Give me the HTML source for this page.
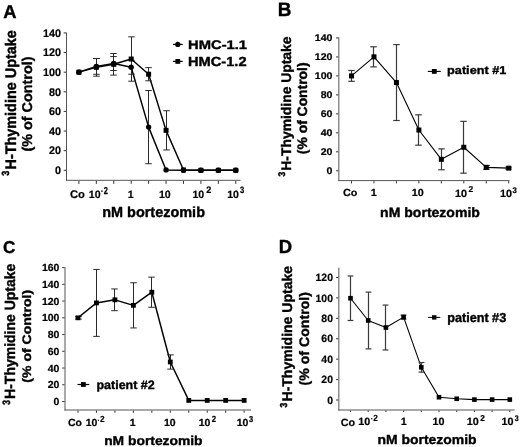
<!DOCTYPE html>
<html><head><meta charset="utf-8"><style>
html,body{margin:0;padding:0;background:#fff;}
svg{display:block;will-change:transform;}
text{font-family:"Liberation Sans", sans-serif;font-weight:bold;fill:#000;text-rendering:geometricPrecision;}
</style></head><body>
<svg width="520" height="447" viewBox="0 0 520 447">
<rect width="520" height="447" fill="#fff"/>
<line x1="66.50" y1="32.40" x2="66.50" y2="180.80" stroke="#555" stroke-width="1" stroke-linecap="butt"/>
<line x1="66.00" y1="180.30" x2="240.50" y2="180.30" stroke="#555" stroke-width="1" stroke-linecap="butt"/>
<line x1="63.70" y1="170.30" x2="66.00" y2="170.30" stroke="#333" stroke-width="1" stroke-linecap="butt"/>
<line x1="63.70" y1="150.67" x2="66.00" y2="150.67" stroke="#333" stroke-width="1" stroke-linecap="butt"/>
<line x1="63.70" y1="131.04" x2="66.00" y2="131.04" stroke="#333" stroke-width="1" stroke-linecap="butt"/>
<line x1="63.70" y1="111.41" x2="66.00" y2="111.41" stroke="#333" stroke-width="1" stroke-linecap="butt"/>
<line x1="63.70" y1="91.79" x2="66.00" y2="91.79" stroke="#333" stroke-width="1" stroke-linecap="butt"/>
<line x1="63.70" y1="72.16" x2="66.00" y2="72.16" stroke="#333" stroke-width="1" stroke-linecap="butt"/>
<line x1="63.70" y1="52.53" x2="66.00" y2="52.53" stroke="#333" stroke-width="1" stroke-linecap="butt"/>
<line x1="63.70" y1="32.90" x2="66.00" y2="32.90" stroke="#333" stroke-width="1" stroke-linecap="butt"/>
<line x1="78.90" y1="180.80" x2="78.90" y2="183.90" stroke="#333" stroke-width="1" stroke-linecap="butt"/>
<line x1="96.33" y1="180.80" x2="96.33" y2="183.90" stroke="#333" stroke-width="1" stroke-linecap="butt"/>
<line x1="113.76" y1="180.80" x2="113.76" y2="183.90" stroke="#333" stroke-width="1" stroke-linecap="butt"/>
<line x1="131.19" y1="180.80" x2="131.19" y2="183.90" stroke="#333" stroke-width="1" stroke-linecap="butt"/>
<line x1="148.62" y1="180.80" x2="148.62" y2="183.90" stroke="#333" stroke-width="1" stroke-linecap="butt"/>
<line x1="166.05" y1="180.80" x2="166.05" y2="183.90" stroke="#333" stroke-width="1" stroke-linecap="butt"/>
<line x1="183.48" y1="180.80" x2="183.48" y2="183.90" stroke="#333" stroke-width="1" stroke-linecap="butt"/>
<line x1="200.91" y1="180.80" x2="200.91" y2="183.90" stroke="#333" stroke-width="1" stroke-linecap="butt"/>
<line x1="218.34" y1="180.80" x2="218.34" y2="183.90" stroke="#333" stroke-width="1" stroke-linecap="butt"/>
<line x1="235.77" y1="180.80" x2="235.77" y2="183.90" stroke="#333" stroke-width="1" stroke-linecap="butt"/>
<text transform="translate(55.04,174.10) scale(1.0000,1.0200)" font-size="10.80" stroke="#000" stroke-width="0.200" stroke-linejoin="round">0</text>
<text transform="translate(49.03,154.47) scale(1.0000,1.0200)" font-size="10.80" stroke="#000" stroke-width="0.200" stroke-linejoin="round">20</text>
<text transform="translate(49.03,134.84) scale(1.0000,1.0200)" font-size="10.80" stroke="#000" stroke-width="0.200" stroke-linejoin="round">40</text>
<text transform="translate(49.03,115.21) scale(1.0000,1.0200)" font-size="10.80" stroke="#000" stroke-width="0.200" stroke-linejoin="round">60</text>
<text transform="translate(49.03,95.59) scale(1.0000,1.0200)" font-size="10.80" stroke="#000" stroke-width="0.200" stroke-linejoin="round">80</text>
<text transform="translate(43.02,75.96) scale(1.0000,1.0200)" font-size="10.80" stroke="#000" stroke-width="0.200" stroke-linejoin="round">100</text>
<text transform="translate(43.02,56.33) scale(1.0000,1.0200)" font-size="10.80" stroke="#000" stroke-width="0.200" stroke-linejoin="round">120</text>
<text transform="translate(43.02,36.70) scale(1.0000,1.0200)" font-size="10.80" stroke="#000" stroke-width="0.200" stroke-linejoin="round">140</text>
<text transform="translate(3.19,17.70) scale(1.0000,1.0188)" font-size="18.33" stroke="#000" stroke-width="0.380" stroke-linejoin="round">A</text>
<text transform="translate(69.97,197.70)" font-size="11.20" stroke="#000" stroke-width="0.200" stroke-linejoin="round">Co</text>
<text transform="translate(88.83,197.50)" font-size="10.60" stroke="#000" stroke-width="0.200" stroke-linejoin="round">10</text>
<rect x="101.10" y="190.55" width="1.80" height="1.1" fill="#000"/>
<text transform="translate(103.69,193.70) scale(1.0000,1.3503)" font-size="7.48" stroke="#000" stroke-width="0.200" stroke-linejoin="round">2</text>
<text transform="translate(127.71,197.50)" font-size="10.60" stroke="#000" stroke-width="0.200" stroke-linejoin="round">1</text>
<text transform="translate(158.88,197.50)" font-size="10.60" stroke="#000" stroke-width="0.200" stroke-linejoin="round">10</text>
<text transform="translate(192.48,197.50)" font-size="10.60" stroke="#000" stroke-width="0.200" stroke-linejoin="round">10</text>
<text transform="translate(206.23,192.70) scale(1.0000,1.0264)" font-size="9.14" stroke="#000" stroke-width="0.200" stroke-linejoin="round">2</text>
<text transform="translate(227.23,197.50)" font-size="10.60" stroke="#000" stroke-width="0.200" stroke-linejoin="round">10</text>
<text transform="translate(239.97,192.80) scale(1.0000,1.2083)" font-size="7.64" stroke="#000" stroke-width="0.200" stroke-linejoin="round">3</text>
<text transform="translate(102.20,216.50) scale(1.0000,1.0161)" font-size="14.46" stroke="#000" stroke-width="0.380" stroke-linejoin="round">nM bortezomib</text>
<text transform="translate(15.90,169.51) rotate(-90) scale(1.0000,1.0638)" font-size="14.41" stroke="#000" stroke-width="0.380" stroke-linejoin="round">H-Thymidine Uptake</text>
<text transform="translate(31.60,151.47) rotate(-90) scale(1.0000,0.9843)" font-size="14.36" stroke="#000" stroke-width="0.386" stroke-linejoin="round">(% of Control)</text>
<text transform="translate(9.30,175.66) rotate(-90) scale(1.0000,1.1469)" font-size="9.05" stroke="#000" stroke-width="0.380" stroke-linejoin="round">3</text>
<text transform="translate(188.01,49.10) scale(1.0000,0.8480)" font-size="14.78" stroke="#000" stroke-width="0.448" stroke-linejoin="round">HMC-1.1</text>
<text transform="translate(188.02,66.00) scale(1.0000,0.8951)" font-size="14.64" stroke="#000" stroke-width="0.425" stroke-linejoin="round">HMC-1.2</text>
<line x1="172.90" y1="44.40" x2="182.70" y2="44.40" stroke="#000" stroke-width="1.2" stroke-linecap="butt"/>
<circle cx="177.80" cy="44.40" r="2.6" fill="#000"/>
<line x1="172.90" y1="61.40" x2="182.70" y2="61.40" stroke="#000" stroke-width="1.2" stroke-linecap="butt"/>
<rect x="175.40" y="59.00" width="4.8" height="4.8" fill="#000"/>
<polyline points="78.90,72.16 96.33,66.37 113.76,63.52 131.19,67.25 148.62,127.12 166.05,169.91 183.48,170.30 200.91,170.30 218.34,170.30 235.77,170.30" fill="none" stroke="#000" stroke-width="1.45" stroke-linejoin="round"/>
<polyline points="78.90,72.16 96.33,67.35 113.76,64.31 131.19,59.01 148.62,74.22 166.05,130.36 183.48,170.01 200.91,170.30 218.34,170.30 235.77,170.30" fill="none" stroke="#000" stroke-width="1.45" stroke-linejoin="round"/>
<line x1="96.50" y1="58.47" x2="96.50" y2="74.27" stroke="#2a2a2a" stroke-width="1.0" stroke-linecap="butt"/>
<line x1="93.25" y1="58.47" x2="99.75" y2="58.47" stroke="#2a2a2a" stroke-width="1.0" stroke-linecap="butt"/>
<line x1="93.25" y1="74.27" x2="99.75" y2="74.27" stroke="#2a2a2a" stroke-width="1.0" stroke-linecap="butt"/>
<line x1="113.50" y1="56.55" x2="113.50" y2="70.49" stroke="#2a2a2a" stroke-width="1.0" stroke-linecap="butt"/>
<line x1="110.25" y1="56.55" x2="116.75" y2="56.55" stroke="#2a2a2a" stroke-width="1.0" stroke-linecap="butt"/>
<line x1="110.25" y1="70.49" x2="116.75" y2="70.49" stroke="#2a2a2a" stroke-width="1.0" stroke-linecap="butt"/>
<line x1="131.50" y1="60.28" x2="131.50" y2="74.22" stroke="#2a2a2a" stroke-width="1.0" stroke-linecap="butt"/>
<line x1="128.25" y1="60.28" x2="134.75" y2="60.28" stroke="#2a2a2a" stroke-width="1.0" stroke-linecap="butt"/>
<line x1="128.25" y1="74.22" x2="134.75" y2="74.22" stroke="#2a2a2a" stroke-width="1.0" stroke-linecap="butt"/>
<line x1="148.50" y1="90.51" x2="148.50" y2="163.72" stroke="#2a2a2a" stroke-width="1.0" stroke-linecap="butt"/>
<line x1="145.25" y1="90.51" x2="151.75" y2="90.51" stroke="#2a2a2a" stroke-width="1.0" stroke-linecap="butt"/>
<line x1="145.25" y1="163.72" x2="151.75" y2="163.72" stroke="#2a2a2a" stroke-width="1.0" stroke-linecap="butt"/>
<line x1="96.50" y1="58.52" x2="96.50" y2="76.18" stroke="#2a2a2a" stroke-width="1.0" stroke-linecap="butt"/>
<line x1="93.25" y1="58.52" x2="99.75" y2="58.52" stroke="#2a2a2a" stroke-width="1.0" stroke-linecap="butt"/>
<line x1="93.25" y1="76.18" x2="99.75" y2="76.18" stroke="#2a2a2a" stroke-width="1.0" stroke-linecap="butt"/>
<line x1="113.50" y1="53.51" x2="113.50" y2="75.10" stroke="#2a2a2a" stroke-width="1.0" stroke-linecap="butt"/>
<line x1="110.25" y1="53.51" x2="116.75" y2="53.51" stroke="#2a2a2a" stroke-width="1.0" stroke-linecap="butt"/>
<line x1="110.25" y1="75.10" x2="116.75" y2="75.10" stroke="#2a2a2a" stroke-width="1.0" stroke-linecap="butt"/>
<line x1="131.50" y1="36.83" x2="131.50" y2="81.19" stroke="#2a2a2a" stroke-width="1.0" stroke-linecap="butt"/>
<line x1="128.25" y1="36.83" x2="134.75" y2="36.83" stroke="#2a2a2a" stroke-width="1.0" stroke-linecap="butt"/>
<line x1="128.25" y1="81.19" x2="134.75" y2="81.19" stroke="#2a2a2a" stroke-width="1.0" stroke-linecap="butt"/>
<line x1="148.50" y1="67.64" x2="148.50" y2="80.79" stroke="#2a2a2a" stroke-width="1.0" stroke-linecap="butt"/>
<line x1="145.25" y1="67.64" x2="151.75" y2="67.64" stroke="#2a2a2a" stroke-width="1.0" stroke-linecap="butt"/>
<line x1="145.25" y1="80.79" x2="151.75" y2="80.79" stroke="#2a2a2a" stroke-width="1.0" stroke-linecap="butt"/>
<line x1="166.50" y1="110.73" x2="166.50" y2="149.98" stroke="#2a2a2a" stroke-width="1.0" stroke-linecap="butt"/>
<line x1="163.25" y1="110.73" x2="169.75" y2="110.73" stroke="#2a2a2a" stroke-width="1.0" stroke-linecap="butt"/>
<line x1="163.25" y1="149.98" x2="169.75" y2="149.98" stroke="#2a2a2a" stroke-width="1.0" stroke-linecap="butt"/>
<circle cx="78.90" cy="72.16" r="2.7" fill="#000"/>
<circle cx="96.33" cy="66.37" r="2.7" fill="#000"/>
<circle cx="113.76" cy="63.52" r="2.7" fill="#000"/>
<circle cx="131.19" cy="67.25" r="2.7" fill="#000"/>
<circle cx="148.62" cy="127.12" r="2.7" fill="#000"/>
<circle cx="166.05" cy="169.91" r="2.7" fill="#000"/>
<circle cx="183.48" cy="170.30" r="2.7" fill="#000"/>
<circle cx="200.91" cy="170.30" r="2.7" fill="#000"/>
<circle cx="218.34" cy="170.30" r="2.7" fill="#000"/>
<circle cx="235.77" cy="170.30" r="2.7" fill="#000"/>
<rect x="76.40" y="69.66" width="5.0" height="5.0" fill="#000"/>
<rect x="93.83" y="64.85" width="5.0" height="5.0" fill="#000"/>
<rect x="111.26" y="61.81" width="5.0" height="5.0" fill="#000"/>
<rect x="128.69" y="56.51" width="5.0" height="5.0" fill="#000"/>
<rect x="146.12" y="71.72" width="5.0" height="5.0" fill="#000"/>
<rect x="163.55" y="127.86" width="5.0" height="5.0" fill="#000"/>
<rect x="180.98" y="167.51" width="5.0" height="5.0" fill="#000"/>
<rect x="198.41" y="167.80" width="5.0" height="5.0" fill="#000"/>
<rect x="215.84" y="167.80" width="5.0" height="5.0" fill="#000"/>
<rect x="233.27" y="167.80" width="5.0" height="5.0" fill="#000"/>
<line x1="338.85" y1="37.20" x2="338.85" y2="181.10" stroke="#555" stroke-width="1" stroke-linecap="butt"/>
<line x1="338.35" y1="180.60" x2="509.50" y2="180.60" stroke="#555" stroke-width="1" stroke-linecap="butt"/>
<line x1="336.05" y1="170.80" x2="338.35" y2="170.80" stroke="#333" stroke-width="1" stroke-linecap="butt"/>
<line x1="336.05" y1="151.82" x2="338.35" y2="151.82" stroke="#333" stroke-width="1" stroke-linecap="butt"/>
<line x1="336.05" y1="132.84" x2="338.35" y2="132.84" stroke="#333" stroke-width="1" stroke-linecap="butt"/>
<line x1="336.05" y1="113.86" x2="338.35" y2="113.86" stroke="#333" stroke-width="1" stroke-linecap="butt"/>
<line x1="336.05" y1="94.89" x2="338.35" y2="94.89" stroke="#333" stroke-width="1" stroke-linecap="butt"/>
<line x1="336.05" y1="75.91" x2="338.35" y2="75.91" stroke="#333" stroke-width="1" stroke-linecap="butt"/>
<line x1="336.05" y1="56.93" x2="338.35" y2="56.93" stroke="#333" stroke-width="1" stroke-linecap="butt"/>
<line x1="336.05" y1="37.95" x2="338.35" y2="37.95" stroke="#333" stroke-width="1" stroke-linecap="butt"/>
<line x1="351.50" y1="181.10" x2="351.50" y2="183.40" stroke="#333" stroke-width="1" stroke-linecap="butt"/>
<line x1="373.96" y1="181.10" x2="373.96" y2="183.40" stroke="#333" stroke-width="1" stroke-linecap="butt"/>
<line x1="396.42" y1="181.10" x2="396.42" y2="183.40" stroke="#333" stroke-width="1" stroke-linecap="butt"/>
<line x1="418.88" y1="181.10" x2="418.88" y2="183.40" stroke="#333" stroke-width="1" stroke-linecap="butt"/>
<line x1="441.34" y1="181.10" x2="441.34" y2="183.40" stroke="#333" stroke-width="1" stroke-linecap="butt"/>
<line x1="463.80" y1="181.10" x2="463.80" y2="183.40" stroke="#333" stroke-width="1" stroke-linecap="butt"/>
<line x1="486.26" y1="181.10" x2="486.26" y2="183.40" stroke="#333" stroke-width="1" stroke-linecap="butt"/>
<line x1="508.72" y1="181.10" x2="508.72" y2="183.40" stroke="#333" stroke-width="1" stroke-linecap="butt"/>
<text transform="translate(326.54,174.20) scale(1.0000,0.9300)" font-size="10.60" stroke="#000" stroke-width="0.215" stroke-linejoin="round">0</text>
<text transform="translate(320.64,155.22) scale(1.0000,0.9300)" font-size="10.60" stroke="#000" stroke-width="0.215" stroke-linejoin="round">20</text>
<text transform="translate(320.64,136.24) scale(1.0000,0.9300)" font-size="10.60" stroke="#000" stroke-width="0.215" stroke-linejoin="round">40</text>
<text transform="translate(320.64,117.26) scale(1.0000,0.9300)" font-size="10.60" stroke="#000" stroke-width="0.215" stroke-linejoin="round">60</text>
<text transform="translate(320.64,98.29) scale(1.0000,0.9300)" font-size="10.60" stroke="#000" stroke-width="0.215" stroke-linejoin="round">80</text>
<text transform="translate(314.75,79.31) scale(1.0000,0.9300)" font-size="10.60" stroke="#000" stroke-width="0.215" stroke-linejoin="round">100</text>
<text transform="translate(314.75,60.33) scale(1.0000,0.9300)" font-size="10.60" stroke="#000" stroke-width="0.215" stroke-linejoin="round">120</text>
<text transform="translate(314.75,41.35) scale(1.0000,0.9300)" font-size="10.60" stroke="#000" stroke-width="0.215" stroke-linejoin="round">140</text>
<text transform="translate(277.79,16.00) scale(1.0000,1.0290)" font-size="18.86" stroke="#000" stroke-width="0.380" stroke-linejoin="round">B</text>
<text transform="translate(342.99,196.30) scale(1.0000,0.9500)" font-size="10.80" stroke="#000" stroke-width="0.211" stroke-linejoin="round">Co</text>
<text transform="translate(370.77,196.30) scale(1.0000,0.9500)" font-size="10.80" stroke="#000" stroke-width="0.211" stroke-linejoin="round">1</text>
<text transform="translate(411.76,196.30) scale(1.0000,0.9500)" font-size="10.80" stroke="#000" stroke-width="0.211" stroke-linejoin="round">10</text>
<text transform="translate(455.11,196.50) scale(1.0000,0.9700)" font-size="10.80" stroke="#000" stroke-width="0.206" stroke-linejoin="round">10</text>
<text transform="translate(468.45,191.50) scale(1.0000,0.9838)" font-size="8.52" stroke="#000" stroke-width="0.203" stroke-linejoin="round">2</text>
<text transform="translate(499.91,196.50) scale(1.0000,0.9700)" font-size="10.80" stroke="#000" stroke-width="0.206" stroke-linejoin="round">10</text>
<text transform="translate(512.57,192.60) scale(1.0000,1.0496)" font-size="7.85" stroke="#000" stroke-width="0.200" stroke-linejoin="round">3</text>
<text transform="translate(380.12,216.80) scale(1.0000,0.9586)" font-size="14.04" stroke="#000" stroke-width="0.396" stroke-linejoin="round">nM bortezomib</text>
<text transform="translate(291.00,170.68) rotate(-90) scale(1.0000,0.9992)" font-size="13.89" stroke="#000" stroke-width="0.380" stroke-linejoin="round">H-Thymidine Uptake</text>
<text transform="translate(307.20,154.14) rotate(-90) scale(1.0000,0.9917)" font-size="13.89" stroke="#000" stroke-width="0.383" stroke-linejoin="round">(% of Control)</text>
<text transform="translate(285.00,176.44) rotate(-90) scale(1.0000,1.1441)" font-size="8.45" stroke="#000" stroke-width="0.380" stroke-linejoin="round">3</text>
<text transform="translate(447.11,74.40) scale(1.0000,0.8958)" font-size="12.68" stroke="#000" stroke-width="0.424" stroke-linejoin="round">patient #1</text>
<line x1="427.80" y1="71.40" x2="440.80" y2="71.40" stroke="#000" stroke-width="1.1" stroke-linecap="butt"/>
<rect x="431.90" y="69.00" width="4.8" height="4.8" fill="#000"/>
<polyline points="351.50,75.91 373.96,56.83 396.42,82.55 418.88,130.00 441.34,159.32 463.80,147.27 486.26,167.38 508.72,168.14" fill="none" stroke="#000" stroke-width="1.1" stroke-linejoin="round"/>
<line x1="351.50" y1="70.50" x2="351.50" y2="81.32" stroke="#3a3a3a" stroke-width="1.2" stroke-linecap="butt"/>
<line x1="348.25" y1="70.50" x2="354.75" y2="70.50" stroke="#3a3a3a" stroke-width="1.2" stroke-linecap="butt"/>
<line x1="348.25" y1="81.32" x2="354.75" y2="81.32" stroke="#3a3a3a" stroke-width="1.2" stroke-linecap="butt"/>
<line x1="373.50" y1="46.78" x2="373.50" y2="66.89" stroke="#3a3a3a" stroke-width="1.2" stroke-linecap="butt"/>
<line x1="370.25" y1="46.78" x2="376.75" y2="46.78" stroke="#3a3a3a" stroke-width="1.2" stroke-linecap="butt"/>
<line x1="370.25" y1="66.89" x2="376.75" y2="66.89" stroke="#3a3a3a" stroke-width="1.2" stroke-linecap="butt"/>
<line x1="396.50" y1="44.59" x2="396.50" y2="120.51" stroke="#3a3a3a" stroke-width="1.2" stroke-linecap="butt"/>
<line x1="393.25" y1="44.59" x2="399.75" y2="44.59" stroke="#3a3a3a" stroke-width="1.2" stroke-linecap="butt"/>
<line x1="393.25" y1="120.51" x2="399.75" y2="120.51" stroke="#3a3a3a" stroke-width="1.2" stroke-linecap="butt"/>
<line x1="418.50" y1="114.81" x2="418.50" y2="145.18" stroke="#3a3a3a" stroke-width="1.2" stroke-linecap="butt"/>
<line x1="415.25" y1="114.81" x2="421.75" y2="114.81" stroke="#3a3a3a" stroke-width="1.2" stroke-linecap="butt"/>
<line x1="415.25" y1="145.18" x2="421.75" y2="145.18" stroke="#3a3a3a" stroke-width="1.2" stroke-linecap="butt"/>
<line x1="441.50" y1="148.88" x2="441.50" y2="169.76" stroke="#3a3a3a" stroke-width="1.2" stroke-linecap="butt"/>
<line x1="438.25" y1="148.88" x2="444.75" y2="148.88" stroke="#3a3a3a" stroke-width="1.2" stroke-linecap="butt"/>
<line x1="438.25" y1="169.76" x2="444.75" y2="169.76" stroke="#3a3a3a" stroke-width="1.2" stroke-linecap="butt"/>
<line x1="463.50" y1="121.36" x2="463.50" y2="173.17" stroke="#3a3a3a" stroke-width="1.2" stroke-linecap="butt"/>
<line x1="460.25" y1="121.36" x2="466.75" y2="121.36" stroke="#3a3a3a" stroke-width="1.2" stroke-linecap="butt"/>
<line x1="460.25" y1="173.17" x2="466.75" y2="173.17" stroke="#3a3a3a" stroke-width="1.2" stroke-linecap="butt"/>
<line x1="486.50" y1="165.49" x2="486.50" y2="169.28" stroke="#3a3a3a" stroke-width="1.2" stroke-linecap="butt"/>
<line x1="483.25" y1="165.49" x2="489.75" y2="165.49" stroke="#3a3a3a" stroke-width="1.2" stroke-linecap="butt"/>
<line x1="483.25" y1="169.28" x2="489.75" y2="169.28" stroke="#3a3a3a" stroke-width="1.2" stroke-linecap="butt"/>
<line x1="508.50" y1="167.19" x2="508.50" y2="169.09" stroke="#3a3a3a" stroke-width="1.2" stroke-linecap="butt"/>
<line x1="505.25" y1="167.19" x2="511.75" y2="167.19" stroke="#3a3a3a" stroke-width="1.2" stroke-linecap="butt"/>
<line x1="505.25" y1="169.09" x2="511.75" y2="169.09" stroke="#3a3a3a" stroke-width="1.2" stroke-linecap="butt"/>
<rect x="349.00" y="73.41" width="5.0" height="5.0" fill="#000"/>
<rect x="371.46" y="54.33" width="5.0" height="5.0" fill="#000"/>
<rect x="393.92" y="80.05" width="5.0" height="5.0" fill="#000"/>
<rect x="416.38" y="127.50" width="5.0" height="5.0" fill="#000"/>
<rect x="438.84" y="156.82" width="5.0" height="5.0" fill="#000"/>
<rect x="461.30" y="144.77" width="5.0" height="5.0" fill="#000"/>
<rect x="483.76" y="164.88" width="5.0" height="5.0" fill="#000"/>
<rect x="506.22" y="165.64" width="5.0" height="5.0" fill="#000"/>
<line x1="65.00" y1="267.10" x2="65.00" y2="410.50" stroke="#555" stroke-width="1" stroke-linecap="butt"/>
<line x1="64.50" y1="410.00" x2="251.10" y2="410.00" stroke="#555" stroke-width="1" stroke-linecap="butt"/>
<line x1="62.20" y1="401.50" x2="64.50" y2="401.50" stroke="#333" stroke-width="1" stroke-linecap="butt"/>
<line x1="62.20" y1="384.76" x2="64.50" y2="384.76" stroke="#333" stroke-width="1" stroke-linecap="butt"/>
<line x1="62.20" y1="368.02" x2="64.50" y2="368.02" stroke="#333" stroke-width="1" stroke-linecap="butt"/>
<line x1="62.20" y1="351.29" x2="64.50" y2="351.29" stroke="#333" stroke-width="1" stroke-linecap="butt"/>
<line x1="62.20" y1="334.55" x2="64.50" y2="334.55" stroke="#333" stroke-width="1" stroke-linecap="butt"/>
<line x1="62.20" y1="317.81" x2="64.50" y2="317.81" stroke="#333" stroke-width="1" stroke-linecap="butt"/>
<line x1="62.20" y1="301.08" x2="64.50" y2="301.08" stroke="#333" stroke-width="1" stroke-linecap="butt"/>
<line x1="62.20" y1="284.34" x2="64.50" y2="284.34" stroke="#333" stroke-width="1" stroke-linecap="butt"/>
<line x1="62.20" y1="267.60" x2="64.50" y2="267.60" stroke="#333" stroke-width="1" stroke-linecap="butt"/>
<line x1="78.00" y1="410.50" x2="78.00" y2="412.80" stroke="#333" stroke-width="1" stroke-linecap="butt"/>
<line x1="96.46" y1="410.50" x2="96.46" y2="412.80" stroke="#333" stroke-width="1" stroke-linecap="butt"/>
<line x1="114.92" y1="410.50" x2="114.92" y2="412.80" stroke="#333" stroke-width="1" stroke-linecap="butt"/>
<line x1="133.38" y1="410.50" x2="133.38" y2="412.80" stroke="#333" stroke-width="1" stroke-linecap="butt"/>
<line x1="151.84" y1="410.50" x2="151.84" y2="412.80" stroke="#333" stroke-width="1" stroke-linecap="butt"/>
<line x1="170.30" y1="410.50" x2="170.30" y2="412.80" stroke="#333" stroke-width="1" stroke-linecap="butt"/>
<line x1="188.76" y1="410.50" x2="188.76" y2="412.80" stroke="#333" stroke-width="1" stroke-linecap="butt"/>
<line x1="207.22" y1="410.50" x2="207.22" y2="412.80" stroke="#333" stroke-width="1" stroke-linecap="butt"/>
<line x1="225.68" y1="410.50" x2="225.68" y2="412.80" stroke="#333" stroke-width="1" stroke-linecap="butt"/>
<line x1="244.14" y1="410.50" x2="244.14" y2="412.80" stroke="#333" stroke-width="1" stroke-linecap="butt"/>
<text transform="translate(53.59,405.10) scale(1.0000,0.9800)" font-size="10.50" stroke="#000" stroke-width="0.204" stroke-linejoin="round">0</text>
<text transform="translate(47.75,388.36) scale(1.0000,0.9800)" font-size="10.50" stroke="#000" stroke-width="0.204" stroke-linejoin="round">20</text>
<text transform="translate(47.75,371.62) scale(1.0000,0.9800)" font-size="10.50" stroke="#000" stroke-width="0.204" stroke-linejoin="round">40</text>
<text transform="translate(47.75,354.89) scale(1.0000,0.9800)" font-size="10.50" stroke="#000" stroke-width="0.204" stroke-linejoin="round">60</text>
<text transform="translate(47.75,338.15) scale(1.0000,0.9800)" font-size="10.50" stroke="#000" stroke-width="0.204" stroke-linejoin="round">80</text>
<text transform="translate(41.91,321.41) scale(1.0000,0.9800)" font-size="10.50" stroke="#000" stroke-width="0.204" stroke-linejoin="round">100</text>
<text transform="translate(41.91,304.68) scale(1.0000,0.9800)" font-size="10.50" stroke="#000" stroke-width="0.204" stroke-linejoin="round">120</text>
<text transform="translate(41.91,287.94) scale(1.0000,0.9800)" font-size="10.50" stroke="#000" stroke-width="0.204" stroke-linejoin="round">140</text>
<text transform="translate(41.91,271.20) scale(1.0000,0.9800)" font-size="10.50" stroke="#000" stroke-width="0.204" stroke-linejoin="round">160</text>
<text transform="translate(3.05,252.80) scale(1.0000,0.9994)" font-size="17.13" stroke="#000" stroke-width="0.380" stroke-linejoin="round">C</text>
<text transform="translate(67.89,426.40) scale(1.0000,0.9800)" font-size="10.50" stroke="#000" stroke-width="0.204" stroke-linejoin="round">Co</text>
<text transform="translate(85.64,426.30) scale(1.0000,0.9800)" font-size="10.50" stroke="#000" stroke-width="0.204" stroke-linejoin="round">10</text>
<rect x="97.75" y="419.70" width="1.25" height="1.1" fill="#000"/>
<text transform="translate(99.96,422.00) scale(1.0000,1.0774)" font-size="8.31" stroke="#000" stroke-width="0.200" stroke-linejoin="round">2</text>
<text transform="translate(129.69,426.30) scale(1.0000,0.9800)" font-size="10.50" stroke="#000" stroke-width="0.204" stroke-linejoin="round">1</text>
<text transform="translate(163.99,426.30) scale(1.0000,0.9800)" font-size="10.50" stroke="#000" stroke-width="0.204" stroke-linejoin="round">10</text>
<text transform="translate(198.64,426.30) scale(1.0000,0.9800)" font-size="10.50" stroke="#000" stroke-width="0.204" stroke-linejoin="round">10</text>
<text transform="translate(211.73,421.50) scale(1.0000,1.1492)" font-size="7.79" stroke="#000" stroke-width="0.200" stroke-linejoin="round">2</text>
<text transform="translate(236.64,426.30) scale(1.0000,0.9800)" font-size="10.50" stroke="#000" stroke-width="0.204" stroke-linejoin="round">10</text>
<text transform="translate(249.08,421.50) scale(1.0000,1.1390)" font-size="7.54" stroke="#000" stroke-width="0.200" stroke-linejoin="round">3</text>
<text transform="translate(104.14,444.80) scale(1.0000,0.9217)" font-size="13.85" stroke="#000" stroke-width="0.412" stroke-linejoin="round">nM bortezomib</text>
<text transform="translate(15.40,398.89) rotate(-90) scale(1.0000,1.0549)" font-size="13.99" stroke="#000" stroke-width="0.380" stroke-linejoin="round">H-Thymidine Uptake</text>
<text transform="translate(30.50,382.65) rotate(-90) scale(1.0000,0.8792)" font-size="14.04" stroke="#000" stroke-width="0.432" stroke-linejoin="round">(% of Control)</text>
<text transform="translate(9.50,404.84) rotate(-90) scale(1.0000,1.2628)" font-size="8.45" stroke="#000" stroke-width="0.380" stroke-linejoin="round">3</text>
<text transform="translate(96.43,388.75) scale(1.0000,0.9719)" font-size="12.49" stroke="#000" stroke-width="0.391" stroke-linejoin="round">patient #2</text>
<line x1="77.50" y1="384.50" x2="89.25" y2="384.50" stroke="#000" stroke-width="1.2" stroke-linecap="butt"/>
<rect x="80.97" y="382.10" width="4.8" height="4.8" fill="#000"/>
<polyline points="78.00,317.81 96.46,302.92 114.92,299.82 133.38,305.34 151.84,292.20 170.30,362.00 188.76,400.41 207.22,400.41 225.68,400.41 244.14,400.41" fill="none" stroke="#000" stroke-width="1.45" stroke-linejoin="round"/>
<line x1="78.50" y1="316.56" x2="78.50" y2="319.07" stroke="#2a2a2a" stroke-width="1.0" stroke-linecap="butt"/>
<line x1="75.25" y1="316.56" x2="81.75" y2="316.56" stroke="#2a2a2a" stroke-width="1.0" stroke-linecap="butt"/>
<line x1="75.25" y1="319.07" x2="81.75" y2="319.07" stroke="#2a2a2a" stroke-width="1.0" stroke-linecap="butt"/>
<line x1="96.50" y1="269.44" x2="96.50" y2="336.39" stroke="#2a2a2a" stroke-width="1.0" stroke-linecap="butt"/>
<line x1="93.25" y1="269.44" x2="99.75" y2="269.44" stroke="#2a2a2a" stroke-width="1.0" stroke-linecap="butt"/>
<line x1="93.25" y1="336.39" x2="99.75" y2="336.39" stroke="#2a2a2a" stroke-width="1.0" stroke-linecap="butt"/>
<line x1="114.50" y1="288.94" x2="114.50" y2="310.70" stroke="#2a2a2a" stroke-width="1.0" stroke-linecap="butt"/>
<line x1="111.25" y1="288.94" x2="117.75" y2="288.94" stroke="#2a2a2a" stroke-width="1.0" stroke-linecap="butt"/>
<line x1="111.25" y1="310.70" x2="117.75" y2="310.70" stroke="#2a2a2a" stroke-width="1.0" stroke-linecap="butt"/>
<line x1="133.50" y1="282.75" x2="133.50" y2="327.94" stroke="#2a2a2a" stroke-width="1.0" stroke-linecap="butt"/>
<line x1="130.25" y1="282.75" x2="136.75" y2="282.75" stroke="#2a2a2a" stroke-width="1.0" stroke-linecap="butt"/>
<line x1="130.25" y1="327.94" x2="136.75" y2="327.94" stroke="#2a2a2a" stroke-width="1.0" stroke-linecap="butt"/>
<line x1="151.50" y1="277.14" x2="151.50" y2="307.27" stroke="#2a2a2a" stroke-width="1.0" stroke-linecap="butt"/>
<line x1="148.25" y1="277.14" x2="154.75" y2="277.14" stroke="#2a2a2a" stroke-width="1.0" stroke-linecap="butt"/>
<line x1="148.25" y1="307.27" x2="154.75" y2="307.27" stroke="#2a2a2a" stroke-width="1.0" stroke-linecap="butt"/>
<line x1="170.50" y1="354.89" x2="170.50" y2="369.11" stroke="#2a2a2a" stroke-width="1.0" stroke-linecap="butt"/>
<line x1="167.25" y1="354.89" x2="173.75" y2="354.89" stroke="#2a2a2a" stroke-width="1.0" stroke-linecap="butt"/>
<line x1="167.25" y1="369.11" x2="173.75" y2="369.11" stroke="#2a2a2a" stroke-width="1.0" stroke-linecap="butt"/>
<rect x="75.60" y="315.41" width="4.8" height="4.8" fill="#000"/>
<rect x="94.06" y="300.52" width="4.8" height="4.8" fill="#000"/>
<rect x="112.52" y="297.42" width="4.8" height="4.8" fill="#000"/>
<rect x="130.98" y="302.94" width="4.8" height="4.8" fill="#000"/>
<rect x="149.44" y="289.80" width="4.8" height="4.8" fill="#000"/>
<rect x="167.90" y="359.60" width="4.8" height="4.8" fill="#000"/>
<rect x="186.36" y="398.01" width="4.8" height="4.8" fill="#000"/>
<rect x="204.82" y="398.01" width="4.8" height="4.8" fill="#000"/>
<rect x="223.28" y="398.01" width="4.8" height="4.8" fill="#000"/>
<rect x="241.74" y="398.01" width="4.8" height="4.8" fill="#000"/>
<line x1="338.85" y1="267.70" x2="338.85" y2="410.50" stroke="#555" stroke-width="1" stroke-linecap="butt"/>
<line x1="338.35" y1="410.00" x2="514.60" y2="410.00" stroke="#555" stroke-width="1" stroke-linecap="butt"/>
<line x1="336.05" y1="400.00" x2="338.35" y2="400.00" stroke="#333" stroke-width="1" stroke-linecap="butt"/>
<line x1="336.05" y1="379.58" x2="338.35" y2="379.58" stroke="#333" stroke-width="1" stroke-linecap="butt"/>
<line x1="336.05" y1="359.17" x2="338.35" y2="359.17" stroke="#333" stroke-width="1" stroke-linecap="butt"/>
<line x1="336.05" y1="338.75" x2="338.35" y2="338.75" stroke="#333" stroke-width="1" stroke-linecap="butt"/>
<line x1="336.05" y1="318.33" x2="338.35" y2="318.33" stroke="#333" stroke-width="1" stroke-linecap="butt"/>
<line x1="336.05" y1="297.92" x2="338.35" y2="297.92" stroke="#333" stroke-width="1" stroke-linecap="butt"/>
<line x1="336.05" y1="277.50" x2="338.35" y2="277.50" stroke="#333" stroke-width="1" stroke-linecap="butt"/>
<line x1="350.50" y1="410.50" x2="350.50" y2="412.00" stroke="#333" stroke-width="1" stroke-linecap="butt"/>
<line x1="368.20" y1="410.50" x2="368.20" y2="412.00" stroke="#333" stroke-width="1" stroke-linecap="butt"/>
<line x1="385.90" y1="410.50" x2="385.90" y2="412.00" stroke="#333" stroke-width="1" stroke-linecap="butt"/>
<line x1="403.60" y1="410.50" x2="403.60" y2="412.00" stroke="#333" stroke-width="1" stroke-linecap="butt"/>
<line x1="421.30" y1="410.50" x2="421.30" y2="412.00" stroke="#333" stroke-width="1" stroke-linecap="butt"/>
<line x1="439.00" y1="410.50" x2="439.00" y2="412.00" stroke="#333" stroke-width="1" stroke-linecap="butt"/>
<line x1="456.70" y1="410.50" x2="456.70" y2="412.00" stroke="#333" stroke-width="1" stroke-linecap="butt"/>
<line x1="474.40" y1="410.50" x2="474.40" y2="412.00" stroke="#333" stroke-width="1" stroke-linecap="butt"/>
<line x1="492.10" y1="410.50" x2="492.10" y2="412.00" stroke="#333" stroke-width="1" stroke-linecap="butt"/>
<line x1="509.80" y1="410.50" x2="509.80" y2="412.00" stroke="#333" stroke-width="1" stroke-linecap="butt"/>
<text transform="translate(327.14,403.60) scale(1.0000,1.0200)" font-size="10.40" stroke="#000" stroke-width="0.200" stroke-linejoin="round">0</text>
<text transform="translate(321.36,383.18) scale(1.0000,1.0200)" font-size="10.40" stroke="#000" stroke-width="0.200" stroke-linejoin="round">20</text>
<text transform="translate(321.36,362.77) scale(1.0000,1.0200)" font-size="10.40" stroke="#000" stroke-width="0.200" stroke-linejoin="round">40</text>
<text transform="translate(321.36,342.35) scale(1.0000,1.0200)" font-size="10.40" stroke="#000" stroke-width="0.200" stroke-linejoin="round">60</text>
<text transform="translate(321.36,321.93) scale(1.0000,1.0200)" font-size="10.40" stroke="#000" stroke-width="0.200" stroke-linejoin="round">80</text>
<text transform="translate(315.57,301.52) scale(1.0000,1.0200)" font-size="10.40" stroke="#000" stroke-width="0.200" stroke-linejoin="round">100</text>
<text transform="translate(315.57,281.10) scale(1.0000,1.0200)" font-size="10.40" stroke="#000" stroke-width="0.200" stroke-linejoin="round">120</text>
<text transform="translate(278.82,253.00) scale(1.0000,1.0295)" font-size="18.43" stroke="#000" stroke-width="0.380" stroke-linejoin="round">D</text>
<text transform="translate(340.79,425.70) scale(1.0000,0.9700)" font-size="10.80" stroke="#000" stroke-width="0.206" stroke-linejoin="round">Co</text>
<text transform="translate(358.31,425.30) scale(1.0000,0.9700)" font-size="10.80" stroke="#000" stroke-width="0.206" stroke-linejoin="round">10</text>
<rect x="371.00" y="418.20" width="1.50" height="1.1" fill="#000"/>
<text transform="translate(373.21,420.75) scale(1.0000,1.0774)" font-size="8.31" stroke="#000" stroke-width="0.200" stroke-linejoin="round">2</text>
<text transform="translate(400.67,425.30) scale(1.0000,0.9700)" font-size="10.80" stroke="#000" stroke-width="0.206" stroke-linejoin="round">1</text>
<text transform="translate(432.41,425.30) scale(1.0000,0.9700)" font-size="10.80" stroke="#000" stroke-width="0.206" stroke-linejoin="round">10</text>
<text transform="translate(466.81,425.30) scale(1.0000,0.9700)" font-size="10.80" stroke="#000" stroke-width="0.206" stroke-linejoin="round">10</text>
<text transform="translate(480.21,420.75) scale(1.0000,1.0343)" font-size="8.31" stroke="#000" stroke-width="0.200" stroke-linejoin="round">2</text>
<text transform="translate(501.46,425.30) scale(1.0000,0.9700)" font-size="10.80" stroke="#000" stroke-width="0.206" stroke-linejoin="round">10</text>
<text transform="translate(514.84,420.50) scale(1.0000,1.1695)" font-size="7.04" stroke="#000" stroke-width="0.200" stroke-linejoin="round">3</text>
<text transform="translate(377.43,444.00) scale(1.0000,0.9398)" font-size="13.95" stroke="#000" stroke-width="0.404" stroke-linejoin="round">nM bortezomib</text>
<text transform="translate(292.20,401.49) rotate(-90) scale(1.0000,1.0006)" font-size="14.02" stroke="#000" stroke-width="0.380" stroke-linejoin="round">H-Thymidine Uptake</text>
<text transform="translate(309.00,385.45) rotate(-90) scale(1.0000,0.9744)" font-size="14.13" stroke="#000" stroke-width="0.390" stroke-linejoin="round">(% of Control)</text>
<text transform="translate(286.50,407.54) rotate(-90) scale(1.0000,1.1950)" font-size="8.45" stroke="#000" stroke-width="0.380" stroke-linejoin="round">3</text>
<text transform="translate(447.22,321.50) scale(1.0000,1.0344)" font-size="12.64" stroke="#000" stroke-width="0.380" stroke-linejoin="round">patient #3</text>
<line x1="428.20" y1="317.40" x2="440.30" y2="317.40" stroke="#000" stroke-width="1.0" stroke-linecap="butt"/>
<rect x="432.05" y="315.20" width="4.4" height="4.4" fill="#000"/>
<polyline points="350.50,298.22 368.20,320.48 385.90,327.52 403.60,317.11 421.30,367.33 439.00,397.24 456.70,398.77 474.40,399.59 492.10,399.59 509.80,399.59" fill="none" stroke="#000" stroke-width="1.1" stroke-linejoin="round"/>
<line x1="350.50" y1="275.97" x2="350.50" y2="320.48" stroke="#3a3a3a" stroke-width="1.2" stroke-linecap="butt"/>
<line x1="347.60" y1="275.97" x2="353.40" y2="275.97" stroke="#3a3a3a" stroke-width="1.2" stroke-linecap="butt"/>
<line x1="347.60" y1="320.48" x2="353.40" y2="320.48" stroke="#3a3a3a" stroke-width="1.2" stroke-linecap="butt"/>
<line x1="368.50" y1="292.10" x2="368.50" y2="348.86" stroke="#3a3a3a" stroke-width="1.2" stroke-linecap="butt"/>
<line x1="365.60" y1="292.10" x2="371.40" y2="292.10" stroke="#3a3a3a" stroke-width="1.2" stroke-linecap="butt"/>
<line x1="365.60" y1="348.86" x2="371.40" y2="348.86" stroke="#3a3a3a" stroke-width="1.2" stroke-linecap="butt"/>
<line x1="385.50" y1="305.06" x2="385.50" y2="349.98" stroke="#3a3a3a" stroke-width="1.2" stroke-linecap="butt"/>
<line x1="382.60" y1="305.06" x2="388.40" y2="305.06" stroke="#3a3a3a" stroke-width="1.2" stroke-linecap="butt"/>
<line x1="382.60" y1="349.98" x2="388.40" y2="349.98" stroke="#3a3a3a" stroke-width="1.2" stroke-linecap="butt"/>
<line x1="403.50" y1="315.07" x2="403.50" y2="319.15" stroke="#3a3a3a" stroke-width="1.2" stroke-linecap="butt"/>
<line x1="400.60" y1="315.07" x2="406.40" y2="315.07" stroke="#3a3a3a" stroke-width="1.2" stroke-linecap="butt"/>
<line x1="400.60" y1="319.15" x2="406.40" y2="319.15" stroke="#3a3a3a" stroke-width="1.2" stroke-linecap="butt"/>
<line x1="421.50" y1="362.54" x2="421.50" y2="372.13" stroke="#3a3a3a" stroke-width="1.2" stroke-linecap="butt"/>
<line x1="418.60" y1="362.54" x2="424.40" y2="362.54" stroke="#3a3a3a" stroke-width="1.2" stroke-linecap="butt"/>
<line x1="418.60" y1="372.13" x2="424.40" y2="372.13" stroke="#3a3a3a" stroke-width="1.2" stroke-linecap="butt"/>
<rect x="348.20" y="295.92" width="4.6" height="4.6" fill="#000"/>
<rect x="365.90" y="318.18" width="4.6" height="4.6" fill="#000"/>
<rect x="383.60" y="325.22" width="4.6" height="4.6" fill="#000"/>
<rect x="401.30" y="314.81" width="4.6" height="4.6" fill="#000"/>
<rect x="419.00" y="365.03" width="4.6" height="4.6" fill="#000"/>
<rect x="436.70" y="394.94" width="4.6" height="4.6" fill="#000"/>
<rect x="454.40" y="396.47" width="4.6" height="4.6" fill="#000"/>
<rect x="472.10" y="397.29" width="4.6" height="4.6" fill="#000"/>
<rect x="489.80" y="397.29" width="4.6" height="4.6" fill="#000"/>
<rect x="507.50" y="397.29" width="4.6" height="4.6" fill="#000"/>
</svg>
</body></html>
